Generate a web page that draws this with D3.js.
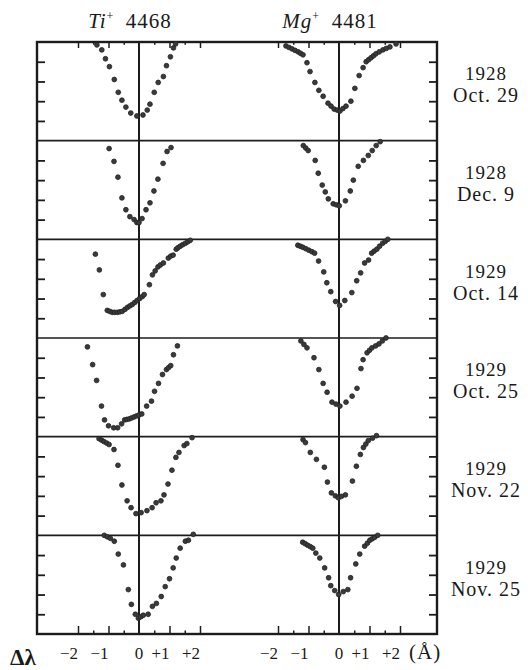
<!DOCTYPE html>
<html>
<head>
<meta charset="utf-8">
<script src="https://cdn.jsdelivr.net/npm/d3@7"></script>
<style>
  html, body { margin: 0; padding: 0; background: #fff; }
  svg text { fill: #1a1a1a; }
</style>
</head>
<body>
<div id="chart"></div>
<script>
// ---------------- data ----------------
const lineNames = ["Ti", "Mg"];
const lineIons = ["+", "+"];
const lineWaves = ["4468", "4481"];
const epochYears = ["1928", "1928", "1929", "1929", "1929", "1929"];
const epochDates = ["Oct. 29", "Dec. 9", "Oct. 14", "Oct. 25", "Nov. 22", "Nov. 25"];
const tickLabelValues = [-2, -1, 0, 1, 2];
const tickLabelTexts = ["\u22122", "\u22121", "0", "+1", "+2"];
const depthTicks = [0.2, 0.4, 0.6, 0.8];
const wlTicks = [-2, -1.5, -1, -0.5, 0.5, 1, 1.5, 2];

// profiles: [Δλ (Å), residual intensity]
const ti1 = [[-1.38,0.97],[-1.22,0.92],[-1.10,0.83],[-0.97,0.75],[-0.81,0.62],[-0.68,0.49],[-0.56,0.41],[-0.43,0.34],[-0.27,0.28],[-0.07,0.25],[0.13,0.26],[0.27,0.31],[0.36,0.37],[0.50,0.49],[0.63,0.59],[0.80,0.65],[0.90,0.76],[1.03,0.85],[1.13,0.94],[1.20,0.98]];
const ti2 = [[-0.98,0.92],[-0.82,0.79],[-0.69,0.63],[-0.56,0.42],[-0.43,0.30],[-0.30,0.23],[-0.16,0.20],[-0.07,0.17],[0.00,0.17],[0.10,0.21],[0.23,0.30],[0.36,0.37],[0.49,0.49],[0.62,0.61],[0.79,0.77],[0.92,0.89],[1.05,0.93]];
const ti3 = [[-1.43,0.85],[-1.30,0.69],[-1.17,0.44],[-1.04,0.28],[-0.96,0.27],[-0.88,0.26],[-0.80,0.26],[-0.71,0.26],[-0.63,0.265],[-0.55,0.27],[-0.46,0.29],[-0.38,0.31],[-0.30,0.325],[-0.22,0.34],[-0.14,0.36],[-0.06,0.38],[0.02,0.40],[0.11,0.42],[0.17,0.44],[0.34,0.54],[0.44,0.64],[0.53,0.68],[0.62,0.72],[0.70,0.74],[0.80,0.76],[0.96,0.81],[1.04,0.83],[1.12,0.84],[1.22,0.90],[1.28,0.915],[1.35,0.93],[1.43,0.945],[1.52,0.96],[1.60,0.975],[1.68,0.99]];
const ti4 = [[-1.69,0.91],[-1.52,0.73],[-1.39,0.57],[-1.23,0.31],[-1.13,0.17],[-1.00,0.11],[-0.83,0.09],[-0.70,0.09],[-0.57,0.13],[-0.47,0.17],[-0.40,0.175],[-0.32,0.18],[-0.24,0.19],[-0.16,0.20],[-0.08,0.21],[0.00,0.22],[0.09,0.23],[0.25,0.31],[0.41,0.36],[0.51,0.46],[0.64,0.54],[0.77,0.63],[0.90,0.68],[0.97,0.70],[1.04,0.72],[1.13,0.83],[1.26,0.92]];
const ti5 = [[-1.31,0.98],[-1.23,0.965],[-1.15,0.95],[-1.06,0.935],[-0.98,0.92],[-0.82,0.87],[-0.69,0.71],[-0.56,0.51],[-0.39,0.35],[-0.26,0.28],[-0.10,0.22],[0.07,0.23],[0.26,0.25],[0.43,0.28],[0.56,0.33],[0.72,0.35],[0.82,0.41],[0.95,0.52],[1.08,0.66],[1.21,0.79],[1.31,0.84],[1.48,0.91],[1.57,0.93],[1.74,0.99]];
const ti6 = [[-1.14,1.00],[-1.04,0.985],[-0.94,0.97],[-0.81,0.94],[-0.68,0.81],[-0.51,0.70],[-0.35,0.45],[-0.25,0.30],[-0.12,0.20],[-0.02,0.16],[0.06,0.175],[0.14,0.19],[0.30,0.20],[0.44,0.28],[0.57,0.31],[0.73,0.38],[0.86,0.48],[1.00,0.56],[1.12,0.67],[1.22,0.77],[1.35,0.87],[1.52,0.94],[1.62,0.95],[1.78,1.01]];
const mg1 = [[-1.74,0.96],[-1.64,0.945],[-1.54,0.93],[-1.44,0.915],[-1.34,0.90],[-1.26,0.885],[-1.18,0.87],[-1.05,0.79],[-0.95,0.70],[-0.79,0.59],[-0.66,0.51],[-0.52,0.45],[-0.36,0.38],[-0.26,0.35],[-0.16,0.32],[-0.06,0.31],[0.03,0.30],[0.13,0.325],[0.23,0.35],[0.39,0.40],[0.52,0.53],[0.66,0.66],[0.79,0.74],[0.89,0.80],[0.97,0.82],[1.05,0.84],[1.13,0.86],[1.21,0.88],[1.32,0.90],[1.44,0.92],[1.55,0.935],[1.67,0.95],[1.87,0.98]];
const mg2 = [[-1.17,0.95],[-1.09,0.925],[-1.01,0.90],[-0.78,0.80],[-0.68,0.67],[-0.55,0.55],[-0.45,0.48],[-0.35,0.41],[-0.19,0.36],[-0.09,0.35],[0.01,0.34],[0.21,0.39],[0.37,0.49],[0.47,0.60],[0.63,0.74],[0.80,0.80],[0.96,0.85],[1.09,0.90],[1.22,0.95],[1.35,0.99]];
const mg3 = [[-1.35,0.94],[-1.27,0.93],[-1.19,0.92],[-1.09,0.905],[-0.99,0.89],[-0.89,0.875],[-0.80,0.86],[-0.67,0.78],[-0.50,0.67],[-0.40,0.56],[-0.27,0.47],[-0.11,0.37],[0.02,0.33],[0.19,0.38],[0.42,0.46],[0.58,0.58],[0.71,0.66],[0.84,0.76],[0.97,0.79],[1.07,0.86],[1.15,0.88],[1.24,0.90],[1.33,0.93],[1.43,0.96],[1.52,0.98],[1.60,1.00]];
const mg4 = [[-1.25,0.97],[-1.15,0.935],[-1.05,0.90],[-0.82,0.80],[-0.66,0.68],[-0.52,0.54],[-0.39,0.45],[-0.23,0.35],[-0.10,0.33],[0.03,0.31],[0.23,0.35],[0.43,0.41],[0.59,0.49],[0.72,0.69],[0.79,0.78],[0.92,0.85],[1.00,0.875],[1.08,0.90],[1.20,0.92],[1.31,0.94],[1.42,0.97],[1.54,1.00]];
const mg5 = [[-1.18,0.97],[-1.10,0.94],[-0.94,0.84],[-0.74,0.77],[-0.48,0.69],[-0.38,0.54],[-0.25,0.43],[-0.12,0.40],[-0.02,0.38],[0.08,0.395],[0.21,0.41],[0.44,0.55],[0.57,0.70],[0.70,0.82],[0.80,0.89],[0.88,0.925],[0.96,0.96],[1.10,0.985],[1.23,1.01]];
const mg6 = [[-1.19,0.93],[-1.11,0.915],[-1.03,0.90],[-0.94,0.885],[-0.86,0.87],[-0.76,0.82],[-0.63,0.77],[-0.47,0.67],[-0.34,0.57],[-0.27,0.49],[-0.14,0.44],[-0.01,0.40],[0.14,0.43],[0.29,0.45],[0.38,0.57],[0.55,0.71],[0.68,0.81],[0.84,0.89],[0.93,0.92],[1.01,0.95],[1.09,0.965],[1.17,0.98],[1.27,1.00]];

const tiProfiles = [ti1, ti2, ti3, ti4, ti5, ti6];
const mgProfiles = [mg1, mg2, mg3, mg4, mg5, mg6];

// ---------------- layout ----------------
const W = 528, H = 670;
const frame = { left: 37, right: 437, top: 42, bottom: 634 };
const pxPerA = 30.5;
const tiCenter = 139, mgCenter = 339;
const ink = "#1c1c1c";
const serif = "'Liberation Serif', 'DejaVu Serif', serif";

const svg = d3.select("#chart").append("svg")
  .attr("width", W).attr("height", H)
  .style("background", "#fff");

const xTi = d3.scaleLinear().domain([-1, 1]).range([tiCenter - pxPerA, tiCenter + pxPerA]);
const xMg = d3.scaleLinear().domain([-1, 1]).range([mgCenter - pxPerA, mgCenter + pxPerA]);
const xScales = [xTi, xMg];

const band = d3.scaleBand().domain(d3.range(epochDates.length))
  .range([frame.top, frame.bottom]).paddingInner(0).paddingOuter(0);
const yOf = i => d3.scaleLinear().domain([0, 1]).range([band(i) + band.bandwidth(), band(i)]);

// panel separator lines (continuum levels)
d3.range(1, epochDates.length).forEach(i => {
  svg.append("line")
    .attr("x1", frame.left).attr("x2", frame.right)
    .attr("y1", band(i)).attr("y2", band(i))
    .attr("stroke", ink).attr("stroke-width", 1.7);
});

// vertical line-centre markers
xScales.forEach(xs => {
  svg.append("line")
    .attr("x1", xs(0)).attr("x2", xs(0))
    .attr("y1", frame.top).attr("y2", frame.bottom)
    .attr("stroke", ink).attr("stroke-width", 2);
});

// outer frame
svg.append("rect")
  .attr("x", frame.left).attr("y", frame.top)
  .attr("width", frame.right - frame.left).attr("height", frame.bottom - frame.top)
  .attr("fill", "none").attr("stroke", ink).attr("stroke-width", 2.4);

// side ticks (intensity 0.2 steps) pointing inward
d3.range(epochDates.length).forEach(i => {
  const y = yOf(i);
  const gl = svg.append("g").attr("transform", `translate(${frame.left},0)`)
    .call(d3.axisLeft(y).tickValues(depthTicks).tickSize(-8).tickFormat(""));
  const gr = svg.append("g").attr("transform", `translate(${frame.right},0)`)
    .call(d3.axisRight(y).tickValues(depthTicks).tickSize(-8).tickFormat(""));
  [gl, gr].forEach(g => {
    g.select(".domain").remove();
    g.selectAll(".tick line").attr("stroke", ink).attr("stroke-width", 1.8);
  });
});

// wavelength ticks on bottom and top
xScales.forEach(xs => {
  const gb = svg.append("g").attr("transform", `translate(0,${frame.bottom})`)
    .call(d3.axisBottom(xs).tickValues(wlTicks).tickSize(-8).tickFormat(""));
  const gt = svg.append("g").attr("transform", `translate(0,${frame.top})`)
    .call(d3.axisTop(xs).tickValues(wlTicks).tickSize(-6).tickFormat(""));
  [gb, gt].forEach(g => {
    g.select(".domain").remove();
    g.selectAll(".tick line").attr("stroke", ink).attr("stroke-width", 1.5)
      .attr("y2", d => {
        const full = g === gb ? -8 : 6;
        return Number.isInteger(d) ? full : full * 0.45;
      });
  });
});

// profile points
function drawProfile(data, xs, i) {
  const y = yOf(i);
  svg.append("g").selectAll("circle").data(data).join("circle")
    .attr("cx", d => xs(d[0]))
    .attr("cy", d => y(d[1]))
    .attr("r", 2.4)
    .attr("fill", "#3a3a3a")
    .attr("stroke", "#222").attr("stroke-width", 0.8);
}
tiProfiles.forEach((p, i) => drawProfile(p, xTi, i));
mgProfiles.forEach((p, i) => drawProfile(p, xMg, i));

// titles
lineNames.forEach((name, k) => {
  const t = svg.append("text")
    .attr("x", xScales[k](0) - 9).attr("y", 28)
    .attr("text-anchor", "middle")
    .style("font-family", serif).style("font-size", "21px")
    .style("letter-spacing", "1px");
  t.append("tspan").style("font-style", "italic").text(name);
  t.append("tspan").attr("dy", -8).style("font-size", "12px").text(lineIons[k]);
  t.append("tspan").attr("dy", 8).text("\u2002" + lineWaves[k]);
});

// epoch labels
epochDates.forEach((d, i) => {
  const cy = band(i) + band.bandwidth() / 2;
  svg.append("text").attr("x", 486).attr("y", cy - 11)
    .attr("text-anchor", "middle")
    .style("font-family", serif).style("font-size", "19px")
    .style("letter-spacing", "1px")
    .text(epochYears[i]);
  svg.append("text").attr("x", 486).attr("y", cy + 11)
    .attr("text-anchor", "middle")
    .style("font-family", serif).style("font-size", "20px")
    .style("letter-spacing", "1px")
    .text(d);
});

// wavelength tick labels
xScales.forEach((xs, k) => {
  tickLabelValues.forEach((v, j) => {
    svg.append("text")
      .attr("x", xs(v) - (v === 0 ? 0 : 9)).attr("y", 659)
      .attr("text-anchor", "middle")
      .style("font-family", serif).style("font-size", "17px")
      .text(tickLabelTexts[j]);
  });
});
svg.append("text").attr("x", xMg(2) + 9).attr("y", 659)
  .attr("text-anchor", "start")
  .style("font-family", serif).style("font-size", "21px")
  .style("letter-spacing", "1px")
  .text("(\u00C5)");
svg.append("text").attr("x", 10).attr("y", 665)
  .style("font-family", serif).style("font-size", "23px").style("font-weight", "bold")
  .text("\u0394\u03BB");
</script>
</body>
</html>
